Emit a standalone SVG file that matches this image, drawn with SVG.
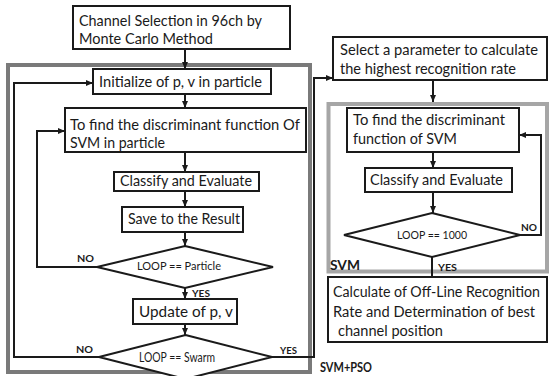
<svg xmlns="http://www.w3.org/2000/svg" width="550" height="376" viewBox="0 0 550 376">
  <defs>
    <marker id="arrow" viewBox="0 0 7 6" refX="7" refY="3" markerWidth="7" markerHeight="6" markerUnits="userSpaceOnUse" orient="auto">
      <path d="M0,0 L7,3 L0,6 z" fill="#1a1a1a"/>
    </marker>
  </defs>
  <style>
    .box { fill: #ffffff; stroke: #1a1a1a; stroke-width: 2; }
    .frame-pso { fill: none; stroke: #7a7a7a; stroke-width: 4; }
    .frame-svm { fill: none; stroke: #a6a6a6; stroke-width: 4; }
    .wire { fill: none; stroke: #1a1a1a; stroke-width: 2; }
    .arr { marker-end: url(#arrow); }
    text { font-family: Lato, "Liberation Sans", sans-serif; fill: #1a1a1a; }
    .t { font-size: 15px; }
    .tc { font-size: 14.5px; }
    .s { font-size: 12px; }
    .m { font-size: 14px; }
    .lbl { font-size: 10px; font-weight: bold; }
    .grp { font-size: 14px; font-weight: bold; }
  </style>

  <!-- background -->
  <rect x="0" y="0" width="550" height="376" fill="#ffffff"/>

  <!-- group frames -->
  <g id="frame-svm-pso">
    <rect class="frame-pso" x="8" y="65" width="302" height="307"/>
    <text class="grp" x="320" y="372" textLength="52" lengthAdjust="spacingAndGlyphs">SVM+PSO</text>
  </g>
  <g id="frame-svm">
    <rect class="frame-svm" x="328.5" y="104" width="218.5" height="167.5"/>
    <text class="grp" x="330" y="270" textLength="30" lengthAdjust="spacingAndGlyphs">SVM</text>
  </g>

  <!-- connectors -->
  <g id="connectors">
    <line class="wire arr" x1="185" y1="49" x2="185" y2="69"/>
    <line class="wire arr" x1="185" y1="94" x2="185" y2="108"/>
    <line class="wire arr" x1="185" y1="152" x2="185" y2="172"/>
    <line class="wire arr" x1="185" y1="191" x2="185" y2="207"/>
    <line class="wire arr" x1="185" y1="232" x2="185" y2="246"/>
    <line class="wire arr" x1="185" y1="287" x2="185" y2="299"/>
    <line class="wire arr" x1="185" y1="324" x2="185" y2="335"/>
    <!-- particle loop back -->
    <polyline class="wire arr" points="97,267 37,267 37,131 65,131"/>
    <!-- swarm loop back -->
    <polyline class="wire arr" points="99,357 14,357 14,83 93,83"/>
    <!-- swarm done -->
    <polyline class="wire arr" points="272,357 314,357 314,78 333,78"/>
    <!-- right column -->
    <line class="wire arr" x1="433" y1="80" x2="433" y2="102"/>
    <line class="wire arr" x1="433" y1="152" x2="433" y2="168"/>
    <line class="wire arr" x1="433" y1="192" x2="433" y2="213"/>
    <polyline class="wire arr" points="520,235 541,235 541,135 519,135"/>
    <line class="wire" x1="432" y1="257" x2="432" y2="277"/>

    <text class="lbl" x="77" y="262" textLength="17" lengthAdjust="spacingAndGlyphs">NO</text>
    <text class="lbl" x="76" y="353" textLength="17" lengthAdjust="spacingAndGlyphs">NO</text>
    <text class="lbl" x="192" y="297" textLength="18" lengthAdjust="spacingAndGlyphs">YES</text>
    <text class="lbl" x="280" y="354" textLength="17" lengthAdjust="spacingAndGlyphs">YES</text>
    <text class="lbl" x="521" y="231" textLength="16" lengthAdjust="spacingAndGlyphs">NO</text>
    <text class="lbl" x="438" y="271" textLength="19" lengthAdjust="spacingAndGlyphs">YES</text>
  </g>

  <!-- left column nodes -->
  <g id="channel-selection">
    <rect class="box" x="73" y="6" width="217" height="43"/>
    <text class="t" x="79" y="26" textLength="183" lengthAdjust="spacingAndGlyphs">Channel Selection in 96ch by</text>
    <text class="t" x="79" y="44" textLength="134" lengthAdjust="spacingAndGlyphs">Monte Carlo Method</text>
  </g>
  <g id="initialize">
    <rect class="box" x="93" y="69" width="178" height="25"/>
    <text class="t" x="99" y="87" textLength="163" lengthAdjust="spacingAndGlyphs">Initialize of p, v in particle</text>
  </g>
  <g id="find-discriminant-pso">
    <rect class="box" x="65" y="108" width="241" height="44"/>
    <text class="t" x="70" y="130" textLength="230" lengthAdjust="spacingAndGlyphs">To find the discriminant function Of</text>
    <text class="t" x="70" y="148" textLength="95" lengthAdjust="spacingAndGlyphs">SVM in particle</text>
  </g>
  <g id="classify-pso">
    <rect class="box" x="114" y="172" width="145" height="19"/>
    <text class="t" x="120" y="186" textLength="132" lengthAdjust="spacingAndGlyphs">Classify and Evaluate</text>
  </g>
  <g id="save-result">
    <rect class="box" x="122" y="207" width="121" height="25"/>
    <text class="t" x="128" y="224" textLength="112" lengthAdjust="spacingAndGlyphs">Save to the Result</text>
  </g>
  <g id="loop-particle">
    <polygon class="box" points="185,246 273,267 185,288 97,267"/>
    <text class="s" x="137" y="270" textLength="84" lengthAdjust="spacingAndGlyphs">LOOP == Particle</text>
  </g>
  <g id="update-pv">
    <rect class="box" x="133" y="299" width="104" height="25"/>
    <text class="t" x="139" y="317" textLength="94" lengthAdjust="spacingAndGlyphs">Update of p, v</text>
  </g>
  <g id="loop-swarm">
    <polygon class="box" points="185.5,335 272,357 185.5,379 99,357"/>
    <text class="m" x="139" y="362" textLength="76" lengthAdjust="spacingAndGlyphs">LOOP == Swarm</text>
  </g>

  <!-- right column nodes -->
  <g id="select-parameter">
    <rect class="box" x="333" y="37" width="214" height="43"/>
    <text class="t" x="340" y="55" textLength="198" lengthAdjust="spacingAndGlyphs">Select a parameter to calculate</text>
    <text class="t" x="340" y="74" textLength="176" lengthAdjust="spacingAndGlyphs">the highest recognition rate</text>
  </g>
  <g id="find-discriminant-svm">
    <rect class="box" x="347" y="108" width="172" height="44"/>
    <text class="t" x="353" y="125" textLength="152" lengthAdjust="spacingAndGlyphs">To find the discriminant</text>
    <text class="t" x="353" y="144" textLength="104" lengthAdjust="spacingAndGlyphs">function of SVM</text>
  </g>
  <g id="classify-svm">
    <rect class="box" x="365" y="168" width="147" height="24"/>
    <text class="t" x="370" y="185" textLength="133" lengthAdjust="spacingAndGlyphs">Classify and Evaluate</text>
  </g>
  <g id="loop-1000">
    <polygon class="box" points="432,213 520,235 432,257 344,235"/>
    <text class="s" x="397" y="239" textLength="70" lengthAdjust="spacingAndGlyphs">LOOP == 1000</text>
  </g>
  <g id="calculate-rate">
    <rect class="box" x="328" y="277" width="219" height="65"/>
    <text class="tc" x="333" y="297" textLength="207" lengthAdjust="spacingAndGlyphs">Calculate of Off-Line Recognition</text>
    <text class="tc" x="333" y="317" textLength="202" lengthAdjust="spacingAndGlyphs">Rate and Determination of best</text>
    <text class="tc" x="338" y="336" textLength="105" lengthAdjust="spacingAndGlyphs">channel position</text>
  </g>
</svg>
